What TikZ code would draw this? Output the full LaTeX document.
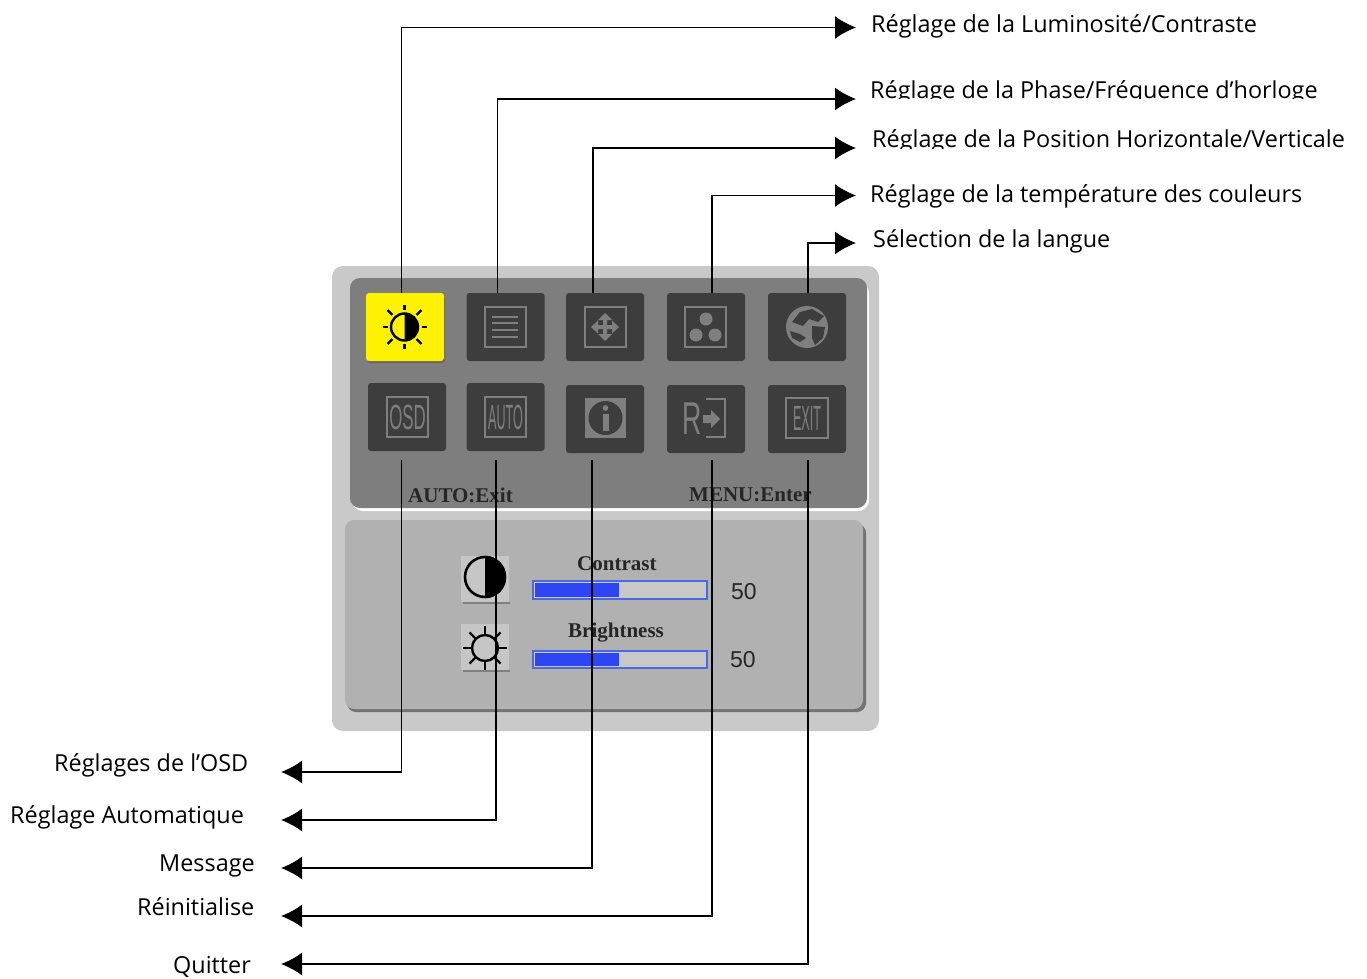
\documentclass[tikz,border=0pt]{standalone}
\usepackage{fontspec}
\setmainfont{Open Sans}
\newfontfamily\osdfont{Liberation Serif}
\newfontfamily\iconfont{Liberation Sans}
\usetikzlibrary{arrows.meta,calc}
\definecolor{outerc}{HTML}{C9C9C9}
\definecolor{darkp}{HTML}{7E7E7E}
\definecolor{lowp}{HTML}{B1B1B1}
\definecolor{boxc}{HTML}{3D3D3D}
\definecolor{icong}{HTML}{7F7F7F}
\definecolor{barb}{HTML}{2E45F5}
\definecolor{barl}{HTML}{4A6BE0}
\definecolor{smallb}{HTML}{C6C6C6}
\tikzset{
  conn/.style={draw=black,line width=1.7pt,-{Latex[length=21pt,width=23pt]}},
  lab/.style={anchor=base west,inner sep=0pt,font=\fontsize{23.4}{28}\selectfont,text=black},
  iconbox/.style={draw=none,fill=boxc,rounded corners=3pt,minimum width=78pt,minimum height=68pt,inner sep=0pt},
  iconrect/.style={draw=icong,line width=1.5pt},
  icontext/.style={inner sep=0pt,text=icong,font=\iconfont\fontsize{35}{35}\selectfont},
  osdtext/.style={inner sep=0pt,anchor=base west,text=black!85,font=\osdfont\bfseries\fontsize{21}{24}\selectfont},
  rayline/.style={line width=2.2pt,line cap=butt},
  barframe/.style={draw=barl,line width=1.2pt,fill=lowp!70!white}
}
\begin{document}
\begin{tikzpicture}[x=1pt,y=-1pt]
\useasboundingbox (0,0) rectangle (1367,979);
\fill[white] (0,0) rectangle (1367,979);
% panels
\fill[outerc,rounded corners=11pt] (332,266) rectangle (879,731);
\fill[white,rounded corners=11pt] (352,282) rectangle (869,511);
\fill[darkp,rounded corners=10pt] (350,278) rectangle (867,508);
\fill[black!55,rounded corners=9pt] (347,524) rectangle (866,712);
\fill[lowp,rounded corners=9pt] (345,520) rectangle (863,709);
% icon boxes
\node[iconbox,fill=black!60] at (406,329) {};
\node[iconbox,fill=yellow] (ib1) at (405,327) {};
\node[iconbox] (ib2) at (505.5,327) {};
\node[iconbox] (ib3) at (605,327) {};
\node[iconbox] (ib4) at (706,327) {};
\node[iconbox] (ib5) at (807,327) {};
\node[iconbox] (ib6) at (407,417) {};
\node[iconbox] (ib7) at (505.5,417) {};
\node[iconbox] (ib8) at (605,419) {};
\node[iconbox] (ib9) at (706,419) {};
\node[iconbox] (ib10) at (807,419) {};
% sun/contrast icon
\draw[black,line width=2.4pt] (404.5,327) circle[radius=13.5pt];
\begin{scope}
  \clip (404.5,300) rectangle (430,354);
  \fill[black] (404.5,327) circle[radius=14pt];
\end{scope}
\foreach \a in {0,45,...,315}
  \draw[black,rayline] ($(404.5,327)+(\a:17)$) -- ($(404.5,327)+(\a:\ifnum\a=45 24\else\ifnum\a=135 24\else\ifnum\a=225 24\else\ifnum\a=315 24\else 22\fi\fi\fi\fi)$);
% list icon
\draw[iconrect] (485,307) rectangle (526,347);
\foreach \y in {317,323,330,337} \draw[icong,line width=1.7pt] (492,\y) -- (518,\y);
% move icon
\draw[iconrect] (585,307) rectangle (626,347);
\fill[icong] (605,313) -- (612,320) -- (607,320) -- (607,325) -- (612,325) -- (612,320.5) -- (619,327) -- (612,333.5) -- (612,329) -- (607,329) -- (607,334) -- (612,334) -- (605,341) -- (598,334) -- (603,334) -- (603,329) -- (598,329) -- (598,333.5) -- (591,327) -- (598,320.5) -- (598,325) -- (603,325) -- (603,320) -- (598,320) -- cycle;
% colour icon
\draw[iconrect] (685,307) rectangle (726,347);
\fill[icong] (706,319) circle[radius=6.5pt] (696,335) circle[radius=6.5pt] (715,335) circle[radius=6.5pt];
% globe
\fill[icong] (807,327) circle[radius=21pt];
\fill[boxc] (800,312) -- (812,309) -- (824,316) -- (818,322) -- (809,319) -- (803,326) -- (792,322) -- cycle;
\fill[boxc] (812,326) -- (825,327) -- (823,338) -- (815,345) -- (812,338) -- cycle;
\fill[boxc] (790,331) -- (800,334) -- (806,338) -- (800,342) -- (792,338) -- cycle;
% OSD
\draw[iconrect] (387,397) rectangle (428,437);
\node[icontext,xscale=0.48] at (407.5,417) {OSD};
\draw[iconrect] (485,397) rectangle (526,437);
\node[icontext,xscale=0.36] at (505.5,417) {AUTO};
% info
\fill[icong] (585,398) rectangle (626,438);
\fill[boxc] (605.5,418) circle[radius=17pt];
\fill[icong] (605.5,408) circle[radius=2.8pt];
\fill[icong] (602.5,414) rectangle (608.5,431);
% reset
\node[icontext,font=\iconfont\fontsize{46}{46}\selectfont,xscale=0.58] at (692.5,419) {R};
\draw[icong,line width=2pt] (706,399) -- (725,399) -- (725,437) -- (706,437);
\fill[icong] (703,415) -- (711,415) -- (711,410) -- (720,419) -- (711,428) -- (711,423) -- (703,423) -- cycle;
% exit
\draw[iconrect] (786,398) rectangle (828,438);
\node[icontext,xscale=0.36] at (807,418) {EXIT};
% status labels
\node[osdtext,font=\osdfont\bfseries\fontsize{21}{24}\selectfont] (nauto) at (408,502) {AUTO:Exit};
\node[osdtext] (nmenu) at (689,501) {MENU:Enter};
% lower panel
\fill[smallb] (461,556) rectangle (509,602);
\fill[black!50] (463,602) rectangle (510,603.5);
\fill[smallb] (461,624) rectangle (509,670);
\fill[black!50] (463,670) rectangle (510,671.5);
\draw[black,line width=2.6pt] (485,577) circle[radius=20pt];
\begin{scope}
  \clip (485,550) rectangle (515,605);
  \fill[black] (485,577) circle[radius=21pt];
\end{scope}
\draw[black,line width=2.4pt] (485,648) circle[radius=13pt];
\foreach \a in {0,45,...,315}
  \draw[black,rayline] ($(485,648)+(\a:13)$) -- ($(485,648)+(\a:22)$);
\node[osdtext,font=\osdfont\bfseries\fontsize{21}{24}\selectfont] (ncon) at (577,570) {Contrast};
\node[osdtext,font=\osdfont\bfseries\fontsize{21}{24}\selectfont] (nbri) at (568,637) {Brightness};
\path[barframe] (533,581) rectangle (707,599);
\fill[barb] (535,583) rectangle (619,597);
\path[barframe] (533,651) rectangle (707,668);
\fill[barb] (535,653) rectangle (619,666);
\node[osdtext,font=\iconfont\fontsize{23}{24}\selectfont] (v1) at (731,599) {50};
\node[osdtext,font=\iconfont\fontsize{23}{24}\selectfont] (v2) at (730,667) {50};
% labels
\node[lab] (t1) at (871,33) {Réglage de la Luminosité/Contraste};
\begin{scope}
  \clip (860,70) rectangle (1367,99);
  \node[lab] (t2) at (870,98.5) {Réglage de la Phase/Fréquence d'horloge};
\end{scope}
\begin{scope}
  \clip (860,120) rectangle (1367,148);
  \node[lab] (t3) at (872,147) {Réglage de la Position Horizontale/Verticale};
\end{scope}
\node[lab] (t4) at (870,202) {Réglage de la température des couleurs};
\node[lab] (t5) at (873,247) {Sélection de la langue};
\node[lab] (b1) at (54,771) {Réglages de l'OSD};
\node[lab] (b2) at (10,823) {Réglage Automatique};
\node[lab] (b3) at (159,871) {Message};
\node[lab] (b4) at (137,915) {Réinitialise};
\node[lab] (b5) at (173,973) {Quitter};
% arrow end points
\coordinate (a1) at (856,27.5);
\coordinate (a2) at (856,99);
\coordinate (a3) at (856,148);
\coordinate (a4) at (856,195.5);
\coordinate (a5) at (856,243);
\coordinate (c1) at (281,772);
\coordinate (c2) at (281,820);
\coordinate (c3) at (281,868);
\coordinate (c4) at (281,916);
\coordinate (c5) at (281,964);
% connectors
\draw[conn] ([xshift=-3.5pt]ib1.north) |- (a1);
\draw[conn] ([xshift=-8pt]ib2.north) |- (a2);
\draw[conn] ([xshift=-12pt]ib3.north) |- (a3);
\draw[conn] ([xshift=6pt]ib4.north) |- (a4);
\draw[conn] ([xshift=1pt]ib5.north) |- (a5);
\draw[conn] ([xshift=-5.5pt,yshift=-9pt]ib6.south) |- (c1);
\draw[conn] ([xshift=-9.5pt,yshift=-9pt]ib7.south) |- (c2);
\draw[conn] ([xshift=-13pt,yshift=-7pt]ib8.south) |- (c3);
\draw[conn] ([xshift=6pt,yshift=-7pt]ib9.south) |- (c4);
\draw[conn] ([xshift=1pt,yshift=-7pt]ib10.south) |- (c5);
\end{tikzpicture}
\end{document}
